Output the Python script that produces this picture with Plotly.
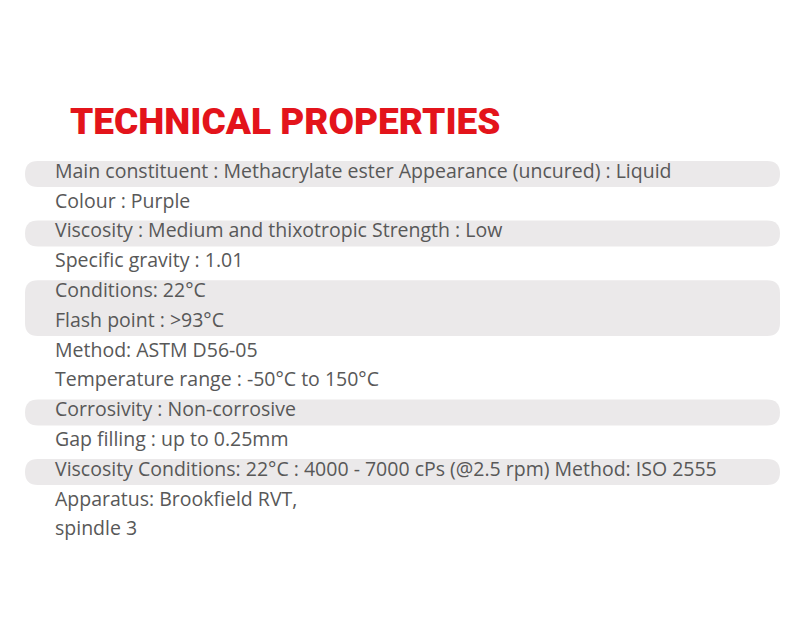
import plotly.graph_objects as go

title = "TECHNICAL PROPERTIES"
lines = [
    "Main constituent : Methacrylate ester Appearance (uncured) : Liquid",
    "Colour : Purple",
    "Viscosity : Medium and thixotropic Strength : Low",
    "Specific gravity : 1.01",
    "Conditions: 22°C",
    "Flash point : >93°C",
    "Method: ASTM D56-05",
    "Temperature range : -50°C to 150°C",
    "Corrosivity : Non-corrosive",
    "Gap filling : up to 0.25mm",
    "Viscosity Conditions: 22°C : 4000 - 7000 cPs (@2.5 rpm) Method: ISO 2555",
    "Apparatus: Brookfield RVT,",
    "spindle 3",
]
bands = [(0, 0), (2, 2), (4, 5), (8, 8), (10, 10)]

# page body adds an 8px offset, so positions are shifted back by it
off = 8
y0, step = 173 - off, 29.8
ys = [y0 + step * i for i in range(len(lines))]

fig = go.Figure()
fig.add_trace(go.Scatter(x=[55 - off] * len(lines), y=ys, mode="text", text=lines,
                         textposition="middle right",
                         textfont=dict(family="Open Sans", size=19.5, color="#585858"),
                         hoverinfo="skip"))

r = 13
for a, b in bands:
    top, bot = ys[a] - 12, ys[b] + 14
    x0, x1 = 25 - off, 780 - off
    path = (f"M {x0+r},{top} L {x1-r},{top} Q {x1},{top} {x1},{top+r} "
            f"L {x1},{bot-r} Q {x1},{bot} {x1-r},{bot} L {x0+r},{bot} "
            f"Q {x0},{bot} {x0},{bot-r} L {x0},{top+r} Q {x0},{top} {x0+r},{top} Z")
    fig.add_shape(type="path", path=path, fillcolor="#ebe9ea", line_width=0, layer="below")

fig.add_annotation(x=68 - off, y=121 - off, text=title, showarrow=False, xanchor="left",
                   font=dict(family="Roboto", size=37, color="#e3141b", weight=900))

fig.update_layout(width=800, height=640, margin=dict(l=0, r=0, t=0, b=0),
                  plot_bgcolor="white", paper_bgcolor="white", showlegend=False,
                  xaxis=dict(range=[0, 800], visible=False),
                  yaxis=dict(range=[640, 0], visible=False))
fig.write_html("out.html")
